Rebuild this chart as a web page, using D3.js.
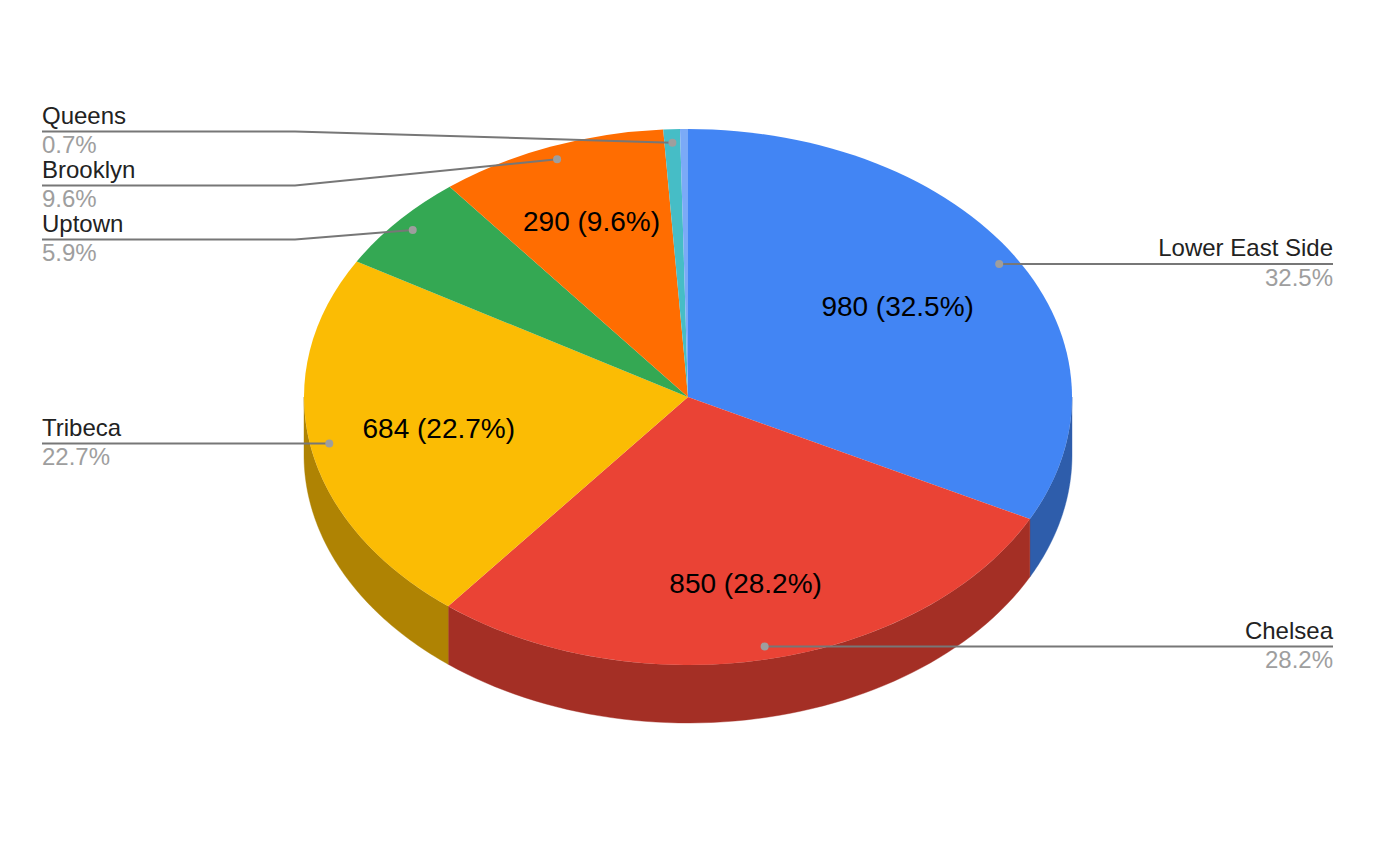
<!DOCTYPE html>
<html><head><meta charset="utf-8">
<script src="https://cdn.jsdelivr.net/npm/d3@7"></script>
<style>html,body{margin:0;padding:0;background:#fff}svg{display:block}text{font-family:"Liberation Sans",Arial,sans-serif}</style>
</head><body><svg id="c" width="1376" height="852"></svg>
<script>
const categories=["Lower East Side","Chelsea","Tribeca","Uptown","Brooklyn","Queens","Other"];
const values=[980,850,684,178,290,21,10];
const colors=["#4285f4","#ea4335","#fbbc04","#34a853","#ff6d01","#46bdc6","#7baaf7"];
const sideColors=["#2e5dab","#a42f25","#af8303","#24753a","#b24c01","#31848a","#5676ac"];
// layout
const cx=688,cy=397,rx=384,ry=268,depth=58;
const sliceLabelRadius=[.64,.714,.66,null,.70,null,null];
const callouts=[
 {i:0,side:"right",y:264,bend:null},
 {i:1,side:"right",y:646.5,bend:null},
 {i:2,side:"left",y:443.5,bend:null},
 {i:3,side:"left",y:239.5,bend:295},
 {i:4,side:"left",y:185.5,bend:295},
 {i:5,side:"left",y:131.5,bend:295}
];
const total=d3.sum(values);
const pct=v=>(v/total*100).toFixed(1)+"%";
const pie=d3.pie().sort(null).value(d=>d)(values);
const svg=d3.select("#c");
const px=(a,r=1)=>cx+rx*r*Math.sin(a);
const py=(a,r=1)=>cy-ry*r*Math.cos(a);

// side walls: visible front half of the ellipse, angle pi/2..3pi/2
const wallLayer=svg.append("g");
pie.forEach((s,i)=>{
  const a0=Math.max(s.startAngle,Math.PI/2),a1=Math.min(s.endAngle,3*Math.PI/2);
  if(a1<=a0) return;
  const angles=d3.range(0,61).map(k=>a0+(a1-a0)*k/60);
  const pts=angles.map(a=>[px(a),py(a)]).concat(angles.slice().reverse().map(a=>[px(a),py(a)+depth]));
  wallLayer.append("path").attr("d",d3.line()(pts)+"Z").attr("fill",sideColors[i]).attr("stroke",sideColors[i]).attr("stroke-width",.4);
});
// top face
const arc=d3.arc().innerRadius(0).outerRadius(rx);
const faceLayer=svg.append("g").attr("transform",`translate(${cx},${cy}) scale(1,${ry/rx})`);
faceLayer.selectAll("path").data(pie).join("path").attr("d",arc).attr("fill",(d,i)=>colors[i]);

// slice labels
pie.forEach((s,i)=>{
  if(sliceLabelRadius[i]==null) return;
  const m=(s.startAngle+s.endAngle)/2;
  svg.append("text").attr("x",px(m,sliceLabelRadius[i])).attr("y",py(m,sliceLabelRadius[i])+9)
    .attr("text-anchor","middle").attr("font-size",28).attr("fill","#000")
    .text(`${values[i]} (${pct(values[i])})`);
});

// callouts
const lineCol="#777777";
callouts.forEach(c=>{
  const s=pie[c.i],m=(s.startAngle+s.endAngle)/2;
  const dx=px(m,.95),dy=py(m,.95);
  const xEnd=c.side==="left"?42:1333;
  const pts=c.bend?[[xEnd,c.y],[c.bend,c.y],[dx,dy]]:[[xEnd,c.y],[dx,c.y]];
  svg.append("path").attr("d",d3.line()(pts)).attr("fill","none").attr("stroke",lineCol).attr("stroke-width",2);
  svg.append("circle").attr("cx",dx).attr("cy",c.bend?dy:c.y).attr("r",4).attr("fill","#9e9e9e");
  const anchor=c.side==="left"?"start":"end";
  svg.append("text").attr("x",xEnd).attr("y",c.y-8).attr("text-anchor",anchor).attr("font-size",24).attr("fill","#222").text(categories[c.i]);
  svg.append("text").attr("x",xEnd).attr("y",c.y+21.5).attr("text-anchor",anchor).attr("font-size",24).attr("fill","#9e9e9e").text(pct(values[c.i]));
});
</script></body></html>
